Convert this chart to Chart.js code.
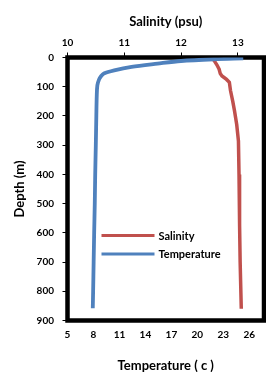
<!DOCTYPE html>
<html>
<head>
<meta charset="utf-8">
<script src="https://cdn.jsdelivr.net/npm/chart.js@4.4.0/dist/chart.umd.min.js"></script>
<style>
  html, body { margin: 0; padding: 0; background: #fff; }
  #wrap { width: 266px; height: 372px; }
</style>
</head>
<body>
<div id="wrap"><canvas id="profile"></canvas></div>
<script>
// depth profile data
var depthSal = [5, 10, 25, 40, 55, 63, 75, 85, 113, 150, 182, 230, 286, 400, 572, 700, 860];
var salinity = [12.56, 12.58, 12.63, 12.67, 12.69, 12.72, 12.80, 12.85, 12.87, 12.91, 12.94, 12.98, 13.01, 13.02, 13.03, 13.04, 13.06];

var depthTemp = [3, 6, 12, 21, 32, 44, 55, 65, 75, 95, 130, 200, 300, 400, 500, 600, 700, 800, 858];
var temperature = [25.3, 21.9, 18.1, 15.4, 12.4, 10.4, 9.2, 8.85, 8.65, 8.45, 8.38, 8.33, 8.27, 8.2, 8.15, 8.08, 8.02, 7.96, 7.92];

var tempTicks = [5, 8, 11, 14, 17, 20, 23, 26];
var salTicks = [10, 11, 12, 13];
var depthTicks = [0, 100, 200, 300, 400, 500, 600, 700, 800, 900];

var FONT = 'Lato, "Open Sans", sans-serif';
var RED = '#C0504D';
var BLUE = '#4F81BD';

function toPoints(xs, ys) {
  return xs.map(function (v, i) { return { x: v, y: ys[i] }; });
}

// black frame round the plot area, drawn under the lines
var frame = {
  id: 'frame',
  beforeDatasetsDraw: function (chart) {
    var a = chart.chartArea, ctx = chart.ctx;
    ctx.save();
    ctx.strokeStyle = '#000';
    ctx.lineWidth = 4.5;
    ctx.strokeRect(a.left, a.top, a.right - a.left, a.bottom - a.top);
    ctx.restore();
  }
};

// legend inside the plot, lower middle
var insideLegend = {
  id: 'insideLegend',
  afterDatasetsDraw: function (chart) {
    var a = chart.chartArea, ctx = chart.ctx;
    ctx.save();
    ctx.font = 'bold 11px ' + FONT;
    ctx.textBaseline = 'middle';
    chart.data.datasets.forEach(function (ds, i) {
      var y = a.top + 178 + i * 18.6;
      ctx.strokeStyle = ds.borderColor;
      ctx.lineWidth = 3;
      ctx.beginPath();
      ctx.moveTo(a.left + 34, y);
      ctx.lineTo(a.left + 87, y);
      ctx.stroke();
      ctx.fillStyle = '#000';
      ctx.fillText(ds.label, a.left + 91, y + 0.5);
    });
    ctx.restore();
  }
};

function fixedTicks(list) {
  return function (scale) {
    scale.ticks = list.map(function (v) { return { value: v }; });
  };
}

var ctx = document.getElementById('profile').getContext('2d');
new Chart(ctx, {
  type: 'scatter',
  data: {
    datasets: [{
      label: 'Salinity',
      data: toPoints(salinity, depthSal),
      xAxisID: 'x2',
      yAxisID: 'y',
      showLine: true,
      borderColor: RED,
      borderWidth: 3.5,
      pointRadius: 0,
      tension: 0,
      order: 1
    }, {
      label: 'Temperature',
      data: toPoints(temperature, depthTemp),
      xAxisID: 'x',
      yAxisID: 'y',
      showLine: true,
      borderColor: BLUE,
      borderWidth: 3.8,
      pointRadius: 0,
      tension: 0.3,
      order: 0
    }]
  },
  options: {
    responsive: true,
    maintainAspectRatio: false,
    animation: false,
    layout: { padding: { right: 2 } },
    plugins: {
      legend: { display: false },
      tooltip: { enabled: false }
    },
    scales: {
      x: {
        type: 'linear',
        position: 'bottom',
        min: 5,
        max: 27.7,
        afterBuildTicks: fixedTicks(tempTicks),
        afterFit: function (s) { s.height = 51.5; },
        grid: { drawOnChartArea: false, drawTicks: false },
        border: { display: false },
        ticks: { color: '#000', padding: 8.5, font: { family: FONT, size: 10, weight: 'bold' } },
        title: {
          display: true,
          text: 'Temperature ( c )',
          color: '#000',
          padding: { top: 0, bottom: -2 },
          font: { family: FONT, size: 13, weight: 'bold' }
        }
      },
      x2: {
        type: 'linear',
        position: 'top',
        min: 10,
        max: 13.46,
        afterBuildTicks: fixedTicks(salTicks),
        afterFit: function (s) { s.height = 57.5; },
        grid: { drawOnChartArea: false, tickLength: 5, tickColor: '#000' },
        border: { display: false },
        ticks: { color: '#000', padding: 3.5, font: { family: FONT, size: 10, weight: 'bold' } },
        title: {
          display: true,
          text: 'Salinity (psu)',
          color: '#000',
          padding: { top: 13.7, bottom: 0 },
          font: { family: FONT, size: 13, weight: 'bold' }
        }
      },
      y: {
        type: 'linear',
        reverse: true,
        min: 0,
        max: 900,
        afterBuildTicks: fixedTicks(depthTicks),
        afterFit: function (s) { s.width = 67.5; },
        grid: { drawOnChartArea: false, tickLength: 5, tickColor: '#000' },
        border: { display: false },
        ticks: { color: '#000', padding: 8.5, font: { family: FONT, size: 10, weight: 'bold' } },
        title: {
          display: true,
          text: 'Depth (m)',
          color: '#000',
          padding: { top: 12.2, bottom: 0 },
          font: { family: FONT, size: 13, weight: 'bold' }
        }
      }
    }
  },
  plugins: [frame, insideLegend]
});
</script>
</body>
</html>
